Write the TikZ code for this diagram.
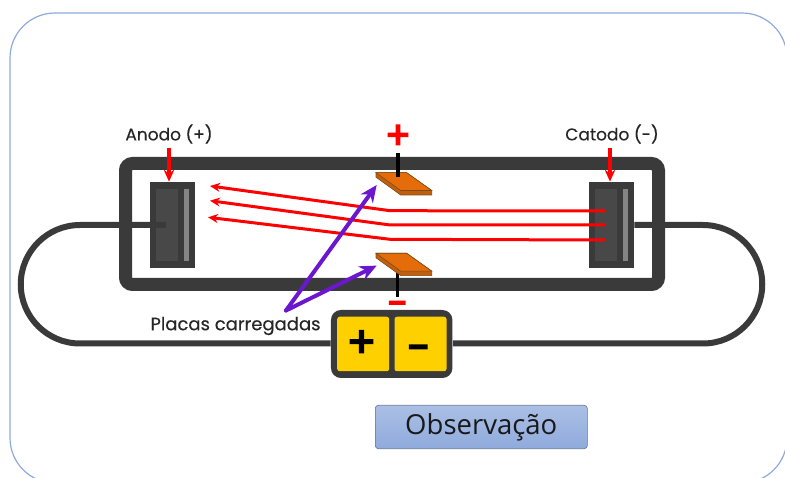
\documentclass[tikz,border=0pt]{standalone}
\usepackage{fontspec}
\setmainfont{Poppins}
\newfontfamily\boxfont{Open Sans}
\newfontfamily\signfont[FakeBold=4]{Poppins}
\newfontfamily\labelfont[FakeBold=0.3]{Poppins}
\usepackage{tikz}
\usetikzlibrary{arrows.meta, positioning}
\definecolor{framecol}{HTML}{8FAADC}
\definecolor{darkcol}{HTML}{3A3A3A}
\definecolor{innercol}{HTML}{484848}
\definecolor{stripcol}{HTML}{858585}
\definecolor{platecol}{HTML}{E46C0A}
\definecolor{plateedge}{HTML}{7F4A14}
\definecolor{platefront}{HTML}{C0600F}
\definecolor{purplecol}{HTML}{6B17CF}
\definecolor{battcol}{HTML}{FFD000}

\begin{document}
\begin{tikzpicture} [x=1pt, y=-1pt, node distance =6.5pt and 6pt, semithick,
	electrode/.style ={draw=none, fill=darkcol, minimum width=45.5pt, minimum height=86pt, inner sep=0pt},
	inner/.style ={fill=innercol, minimum width=21.5pt, minimum height=72pt, inner sep=0pt},
	strip/.style ={fill=stripcol, minimum width=4.5pt, minimum height=72pt, inner sep=0pt},
	wire/.style ={draw=darkcol, line width=6pt},
	label/.style ={font=\labelfont\fontsize{17}{20}\selectfont, text=black!85, inner sep=0pt},
	beam/.style ={draw=red, line width=3pt, -{Stealth[length=10pt,width=9pt]}, line join=round},
	pointer/.style ={draw=red, line width=3.5pt, -{Stealth[length=12pt,width=10.5pt]}},
	stem/.style ={draw=black, line width=3.5pt},
	callout/.style ={draw=purplecol, line width=4pt, -{Stealth[length=17pt,width=15pt]}, line cap=round},
	cell/.style ={fill=battcol, rounded corners=2.5pt, minimum width=52pt, minimum height=54.5pt, inner sep=0pt},
	battsign/.style ={font=\signfont\fontsize{43}{43}\selectfont, inner sep=0pt},
	chargesign/.style ={text=red, font=\signfont\fontsize{38}{38}\selectfont, inner sep=0pt}]
	\useasboundingbox (0,0) rectangle (785,478);
	\draw[framecol, line width=1.2pt, rounded corners=45pt] (10,13) rectangle (787,483);
	% tube
	\draw[darkcol, line width=13pt, rounded corners=7pt] (125.5,163.5) rectangle (658.5,284.5);
	% electrodes
	\node[electrode] (anode) at (172.25,225) {};
	\node[inner] (anodeInner) at (166.75,225) {};
	\node[strip] (anodeStrip) at (186.25,225) {};
	\node[electrode] (cathode) at (611.25,225) {};
	\node[inner] (cathodeInner) at (606,225) {};
	\node[strip] (cathodeStrip) at (625.5,225) {};
	% battery
	\node[draw=none, fill=darkcol, rounded corners=10pt, minimum width=121.5pt, minimum height=68pt, inner sep=0pt] (battery) at (391.7,344) {};
	\node[cell] (cellPlus) at (363.2,344) {};
	\node[cell] (cellMinus) at (420.5,344) {};
	\node[battsign] (signPlus) at (361.5,344) {+};
	\node[battsign] (signMinus) at (419,353.9) {-};
	% wire
	\coordinate (pinAnode) at (166,225);
	\coordinate (pinCathode) at (cathode.east);
	\draw[wire] (pinAnode) -- (80,225) arc (270:90:59.25) -- (battery.west |- 0,343.5);
	\draw[wire] (pinCathode) -- (703,225) arc (-90:90:59.25) -- (battery.east |- 0,343.5);
	% stems and plates
	\coordinate (stemBottom) at (397.5,297);
	\coordinate (stemTop) at (398,153);
	\draw[stem] (stemBottom) -- (397.5,273);
	\foreach \py/\pname in {172.7/plateTop, 253.3/plateBot}{
		\draw[plateedge, fill=platefront, line width=0.6pt] (376,\py) -- ++(0,4.5) -- ++(24.7,17.8) -- ++(31,0) -- ++(0,-4.5) -- ++(-25,-17.8) -- cycle;
		\draw[plateedge, fill=platecol, line width=0.6pt] (376,\py) -- ++(30.7,0) -- ++(25,17.8) -- ++(-31,0) -- cycle;
		\coordinate (\pname) at (376.7,\py+12.3);
	}
	\draw[stem] (stemTop) -- (398,177);
	\node[chargesign] (chargePlus) at (398,137) {+};
	\node[chargesign] (chargeMinus) at (398,309) {-};
	% beams
	\foreach \ya/\yb/\yc/\xa in {211/210.7/186/210, 225/225/200.7/210, 240/239.3/217.3/208}{
		\draw[beam] (605,\ya) -- (390,\yb) -- (\xa,\yc);
	}
	% labels
	\node[label] (anodeLabel) at (169,134) {Anodo (+)};
	\node[label] (cathodeLabel) at (612,134) {Catodo (-)};
	\node[label, font=\labelfont\fontsize{18}{20}\selectfont] (platesLabel) at (235.5,326) {Placas carregadas};
	\draw[pointer] (169,148) -- (anode.north -| 169,178);
	\draw[pointer] (610,148) -- (cathode.north -| 610,178);
	% purple arrows
	\coordinate (apex) at (286,310.5);
	\draw[callout] (apex) -- (plateTop);
	\draw[callout] (apex) -- (plateBot);
	% caption
	\node[draw=black!30!framecol, top color=framecol!75!white, bottom color=framecol, rounded corners=3pt, minimum width=212pt, minimum height=43.4pt, inner sep=0pt, font=\boxfont\fontsize{27.5}{30}\selectfont, text=black!90] (caption) at (481.3,427) {Observação};
\end{tikzpicture}
\end{document}
